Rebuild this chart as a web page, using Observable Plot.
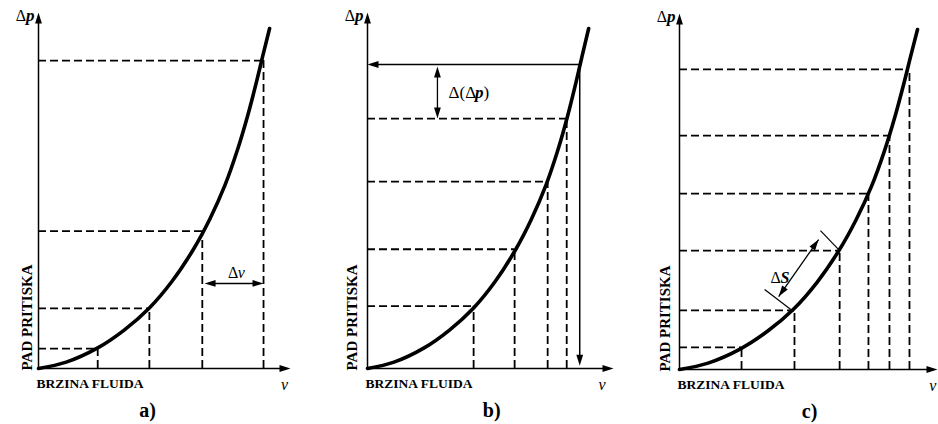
<!DOCTYPE html>
<html><head><meta charset="utf-8">
<script src="https://cdn.jsdelivr.net/npm/d3@7"></script>
<script src="https://cdn.jsdelivr.net/npm/@observablehq/plot@0.6"></script>
<style>
body{margin:0;background:#fff}
#chart{position:relative;width:938px;height:424px;overflow:hidden;background:#fff}
#chart svg{position:absolute;top:0}
</style></head><body><div id="chart"></div>
<script>
// Pressure drop (Δp) vs fluid velocity (v), arbitrary units
const curveV = [0, 11, 23.5, 34, 44, 53, 61.5, 68, 74, 79, 83, 86.5, 89, 91.7];
const curveP = [0, 1.8, 5.8, 10.8, 17, 24.5, 33.5, 42, 51.5, 61.5, 71, 80.5, 87.8, 95.5];

const panelNames = ["a)", "b)", "c)"];
const xTitle = "BRZINA FLUIDA";
const yTitle = "PAD PRITISKA";

// a) equal velocity steps
const aV = [23.5, 44, 65, 89.3];
const aP = [5.6, 16.9, 38.6, 86.5];
// b) equal pressure steps
const bV = [44, 61, 74.7, 82.6];
const bP = [17.5, 33.5, 52.5, 70.2];
const bTop = [88, 85.4];
// c) equal arc-length steps
const cV = [23.9, 44.3, 61.7, 72.8, 80.9, 88.6];
const cP = [6.2, 16.6, 33.4, 49.4, 65.7, 84.3];

// annotations (data units)
const aDv = {p: 23.9, v1: 65.9, v2: 89.3, labelV: 75.2, labelP: 27};
const bDdp = {v: 29, p1: 70.2, p2: 84.8, labelV: 33.6, labelP: 77.5};
const cDs = {v1: 38.2, p1: 20.5, v2: 53.6, p2: 36.5, labelV: 35.1, labelP: 25.8,
  tick1: [32.8, 22.5, 43.9, 16.3], tick2: [54.3, 39.0, 61.7, 33.4]};

const layout = [
  {left: 0, w: 313, mL: 38, mR: 23, mT: 12, mB: 56, xMax: 100, yTitleDx: -11, vLabel: 97.6, nameV: 43.3},
  {left: 313, w: 313, mL: 54, mR: 13, mT: 12, mB: 56, xMax: 102, yTitleDx: -15, vLabel: 97.3, nameV: 51.5},
  {left: 626, w: 312, mL: 53, mR: 1, mT: 13, mB: 55, xMax: 99.4, yTitleDx: -14, vLabel: 97.6, nameV: 50.1}
];

const curve = curveV.map((v, i) => ({v, p: curveP[i]}));
const pts = (V, P) => V.map((v, i) => ({v, p: P[i]}));
const FONT = "Liberation Serif";

function heads(list) {
  return Plot.vector(list, {x: "v", y: "p", rotate: "r", shape: "spike", anchor: "end",
    length: 11, r: 3.4, fill: "black", stroke: "none"});
}
function txt(x, y, t, o) {
  return Plot.text([{x, y, t}], {x: "x", y: "y", text: "t", fill: "black", fontFamily: FONT, ...o});
}

function panel(k) {
  const L = layout[k];
  const sx = (L.w - L.mL - L.mR) / L.xMax, sy = (424 - L.mT - L.mB) / 100;
  const marks = [];
  const dash = {stroke: "black", strokeWidth: 1.8, strokeDasharray: "8,4"};
  let D = k === 0 ? pts(aV, aP) : k === 1 ? pts(bV, bP) : pts(cV, cP);
  marks.push(Plot.ruleY(D, {y: "p", x1: 0, x2: "v", ...dash}));
  marks.push(Plot.ruleX(D, {x: "v", y1: 0, y2: "p", ...dash}));
  // axes
  marks.push(Plot.ruleY([0], {x1: 0, x2: L.xMax - 2, stroke: "black", strokeWidth: 1.5}));
  marks.push(Plot.ruleX([0], {y1: 0, y2: 98, stroke: "black", strokeWidth: 1.5}));
  const H = [{v: L.xMax, p: 0, r: 90}, {v: 0, p: 100, r: 0}];
  // curve
  marks.push(Plot.line(curve, {x: "v", y: "p", curve: "catmull-rom", stroke: "black", strokeWidth: 3.6}));
  if (k === 0) {
    marks.push(Plot.ruleY([aDv.p], {x1: aDv.v1 + 2, x2: aDv.v2 - 2, stroke: "black", strokeWidth: 1.5}));
    H.push({v: aDv.v1, p: aDv.p, r: 270}, {v: aDv.v2, p: aDv.p, r: 90});
    marks.push(txt(aDv.labelV, aDv.labelP, "Δ", {textAnchor: "start", fontSize: 16}));
    marks.push(txt(aDv.labelV, aDv.labelP, "v", {textAnchor: "start", fontSize: 16, fontStyle: "italic", dx: 9.8}));
  }
  if (k === 1) {
    marks.push(Plot.ruleY([bTop[1]], {x1: 2, x2: bTop[0], stroke: "black", strokeWidth: 1.5}));
    marks.push(Plot.ruleX([bTop[0]], {y1: 2, y2: bTop[1], stroke: "black", strokeWidth: 1.5}));
    H.push({v: 0, p: bTop[1], r: 270}, {v: bTop[0], p: 0.8, r: 180});
    marks.push(Plot.ruleX([bDdp.v], {y1: bDdp.p1 + 2, y2: bDdp.p2 - 2, stroke: "black", strokeWidth: 1.3}));
    H.push({v: bDdp.v, p: bDdp.p1, r: 180}, {v: bDdp.v, p: bDdp.p2, r: 0});
    marks.push(txt(bDdp.labelV, bDdp.labelP, "Δ(Δ", {textAnchor: "start", fontSize: 17}));
    marks.push(txt(bDdp.labelV, bDdp.labelP, "p", {textAnchor: "start", fontSize: 17, fontStyle: "italic", fontWeight: "bold", dx: 26.5}));
    marks.push(txt(bDdp.labelV, bDdp.labelP, ")", {textAnchor: "start", fontSize: 17, dx: 35}));
  }
  if (k === 2) {
    const ticks = [cDs.tick1, cDs.tick2].map(t => ({v1: t[0], p1: t[1], v2: t[2], p2: t[3]}));
    marks.push(Plot.link(ticks, {x1: "v1", y1: "p1", x2: "v2", y2: "p2", stroke: "black", strokeWidth: 1.2}));
    const ang = Math.atan2((cDs.v2 - cDs.v1) * sx, (cDs.p2 - cDs.p1) * sy) * 180 / Math.PI;
    marks.push(Plot.link([cDs], {x1: "v1", y1: "p1", x2: "v2", y2: "p2", stroke: "black", strokeWidth: 1.3}));
    H.push({v: cDs.v2, p: cDs.p2, r: ang}, {v: cDs.v1, p: cDs.p1, r: ang + 180});
    marks.push(txt(cDs.labelV, cDs.labelP, "Δ", {textAnchor: "start", fontSize: 16}));
    marks.push(txt(cDs.labelV, cDs.labelP, "S", {textAnchor: "start", fontSize: 16, fontStyle: "italic", fontWeight: "bold", dx: 9.8}));
  }
  marks.push(heads(H));
  // titles
  marks.push(txt(0, 0, xTitle, {textAnchor: "start", fontSize: 13.5, fontWeight: "bold", dx: -2, dy: 15}));
  marks.push(txt(0, 0, yTitle, {textAnchor: "start", fontSize: 15, fontWeight: "bold", rotate: -90, dx: L.yTitleDx, dy: 2}));
  marks.push(txt(0, 100, "p", {textAnchor: "end", fontSize: 17, fontStyle: "italic", fontWeight: "bold", dx: -4, dy: 3}));
  marks.push(txt(0, 100, "Δ", {textAnchor: "end", fontSize: 16, dx: -12.5, dy: 3}));
  marks.push(txt(L.vLabel, 0, "v", {textAnchor: "middle", fontSize: 16, fontStyle: "italic", dy: 16}));
  marks.push(txt(L.nameV, 0, panelNames[k], {textAnchor: "middle", fontSize: 20, fontWeight: "bold", dy: 42}));

  const svg = Plot.plot({
    width: L.w, height: 424,
    marginLeft: L.mL, marginRight: L.mR, marginTop: L.mT, marginBottom: L.mB,
    x: {domain: [0, L.xMax], axis: null},
    y: {domain: [0, 100], axis: null},
    style: {background: "transparent", overflow: "visible"},
    marks
  });
  svg.style.left = L.left + "px";
  return svg;
}

const root = document.getElementById("chart");
[0, 1, 2].forEach(k => root.appendChild(panel(k)));
</script>
</body></html>
